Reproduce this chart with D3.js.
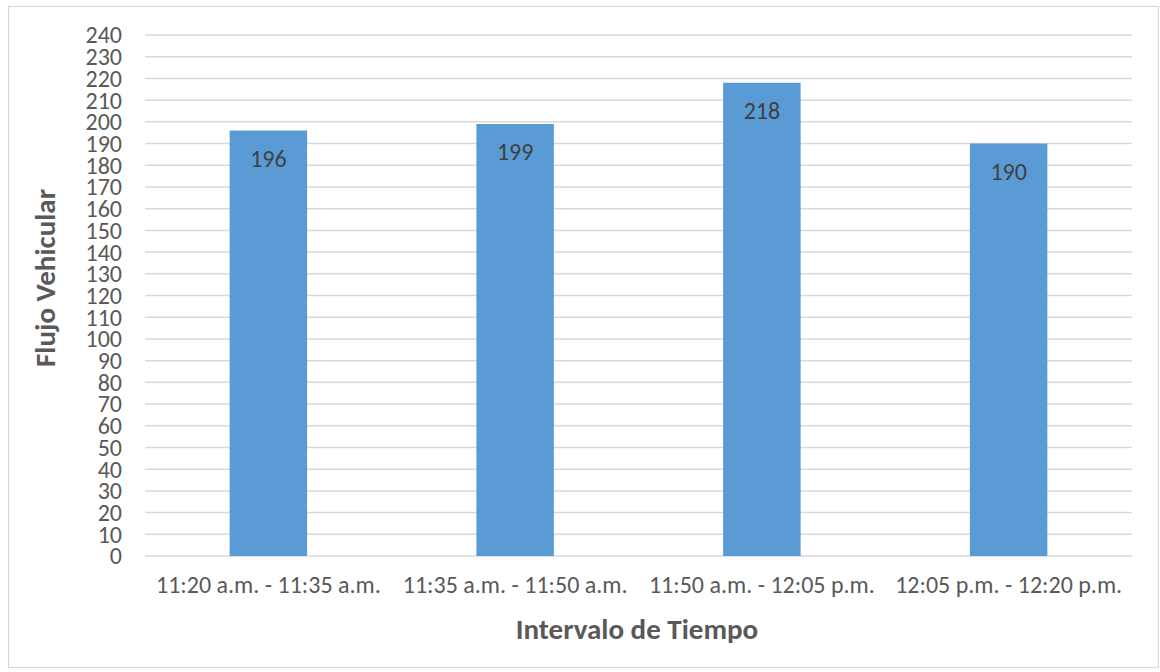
<!DOCTYPE html>
<html>
<head>
<meta charset="utf-8">
<script src="https://cdn.jsdelivr.net/npm/d3@7"></script>
<style>
  html, body { margin: 0; padding: 0; background: #fff; }
  svg { display: block; font-family: Carlito, "Open Sans", sans-serif; }
</style>
</head>
<body>
<svg id="chart" width="1160" height="672"></svg>
<script>
// Vehicle flow per 15-minute interval
const categories = [
  "11:20 a.m. - 11:35 a.m.",
  "11:35 a.m. - 11:50 a.m.",
  "11:50 a.m. - 12:05 p.m.",
  "12:05 p.m. - 12:20 p.m."
];
const values = [196, 199, 218, 190];
const yTicks = d3.range(0, 241, 10);

const FONT = "Carlito, 'Open Sans', sans-serif";
const svg = d3.select("#chart");
const plot = { left: 145, right: 1132, top: 35, bottom: 556 };

// Outer frame
svg.append("rect")
  .attr("x", 8.5).attr("y", 6.5)
  .attr("width", 1150).attr("height", 661)
  .attr("fill", "#fff").attr("stroke", "#d9d9d9").attr("stroke-width", 1.2);

const x = d3.scaleBand().domain(categories).range([plot.left, plot.right]).padding(0);
const y = d3.scaleLinear().domain([0, 240]).range([plot.bottom, plot.top]);

// Horizontal gridlines
svg.append("g")
  .selectAll("line")
  .data(yTicks)
  .join("line")
  .attr("x1", plot.left).attr("x2", plot.right)
  .attr("y1", d => y(d)).attr("y2", d => y(d))
  .attr("stroke", "#d9d9d9").attr("stroke-width", 1.5);

// Y axis tick labels
const yAxis = d3.axisLeft(y).tickValues(yTicks).tickSize(0).tickPadding(0);
const gy = svg.append("g").attr("transform", `translate(${plot.left - 23},0)`).call(yAxis);
gy.select(".domain").remove();
gy.selectAll("text")
  .attr("dy", "0.33em")
  .attr("fill", "#595959").attr("font-size", 24)
  .attr("font-family", FONT);

// X axis category labels
const xAxis = d3.axisBottom(x).tickSize(0).tickPadding(0);
const gx = svg.append("g").attr("transform", `translate(0,593)`).call(xAxis);
gx.select(".domain").remove();
gx.selectAll("text")
  .attr("y", 0).attr("dy", null)
  .attr("fill", "#595959").attr("font-size", 24)
  .attr("font-family", FONT);

// Bars
const barW = x.bandwidth() * 0.314;
svg.append("g")
  .selectAll("rect")
  .data(values)
  .join("rect")
  .attr("x", (d, i) => x(categories[i]) + (x.bandwidth() - barW) / 2)
  .attr("y", d => y(d))
  .attr("width", barW)
  .attr("height", d => y(0) - y(d))
  .attr("fill", "#5b9bd5");

// Value labels inside the bar tops
svg.append("g")
  .selectAll("text")
  .data(values)
  .join("text")
  .attr("x", (d, i) => x(categories[i]) + x.bandwidth() / 2)
  .attr("y", d => y(d) + 36)
  .attr("text-anchor", "middle")
  .attr("fill", "#404040").attr("font-size", 24)
  .text(d => d);

// Axis titles
svg.append("text")
  .attr("x", 637).attr("y", 639)
  .attr("text-anchor", "middle")
  .attr("font-size", 29).attr("font-weight", "bold").attr("fill", "#595959")
  .text("Intervalo de Tiempo");

svg.append("text")
  .attr("transform", `translate(55,278) rotate(-90)`)
  .attr("text-anchor", "middle")
  .attr("font-size", 29).attr("font-weight", "bold").attr("fill", "#595959")
  .text("Flujo Vehicular");
</script>
</body>
</html>
